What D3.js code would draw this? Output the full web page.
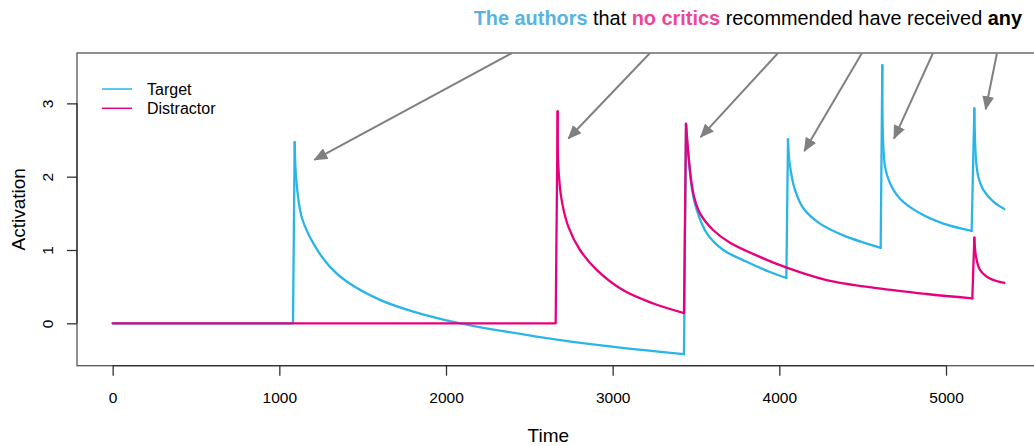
<!DOCTYPE html>
<html><head><meta charset="utf-8">
<script src="https://cdn.jsdelivr.net/npm/d3@7"></script>
<style>
html,body{margin:0;padding:0;background:#fff;}
text{font-family:"Liberation Sans",Arial,Helvetica,sans-serif;}
</style></head>
<body><svg id="chart" width="1034" height="446"></svg>
<script>
// ---- data ----
const targetTime = [0, 1082, 1092, 1102, 1134, 1204, 1304, 1404, 1604, 1804, 2064, 2544, 2944, 3428,
  3440, 3474, 3504, 3564, 3664, 3804, 3944, 4042,
  4052, 4062, 4094, 4144, 4244, 4384, 4608,
  4618, 4634, 4664, 4724, 4844, 4984, 5154,
  5170, 5180, 5194, 5224, 5284, 5350];
const targetAct = [0, 0, 2.47, 1.95, 1.45, 1.09, 0.77, 0.57, 0.32, 0.16, 0.01, -0.18, -0.305, -0.42,
  2.72, 1.86, 1.55, 1.23, 1.00, 0.84, 0.70, 0.62,
  2.51, 2.18, 1.82, 1.57, 1.36, 1.20, 1.03,
  3.52, 2.14, 1.91, 1.70, 1.50, 1.36, 1.26,
  2.93, 2.23, 2.00, 1.82, 1.66, 1.56];
const distractorTime = [0, 2658, 2670, 2674, 2694, 2734, 2804, 2904, 3064, 3244, 3428,
  3440, 3484, 3524, 3604, 3704, 3900, 4044, 4284, 4584, 4884, 5158,
  5170, 5180, 5204, 5264, 5350];
const distractorAct = [0, 0, 2.89, 2.14, 1.68, 1.32, 1.00, 0.73, 0.45, 0.27, 0.14,
  2.72, 1.77, 1.50, 1.27, 1.10, 0.89, 0.76, 0.59, 0.48, 0.40, 0.34,
  1.17, 0.91, 0.73, 0.61, 0.55];
const xTicks = [0, 1000, 2000, 3000, 4000, 5000];
const yTicks = [0, 1, 2, 3];
const seriesNames = ["Target", "Distractor"];
const arrowFromX = [2396, 3224, 3992, 4496, 4922, 5306];
const arrowFromY = [3.687, 3.687, 3.687, 3.687, 3.687, 3.687];
const arrowToX = [1210, 2734, 3528, 4150, 4688, 5238];
const arrowToY = [2.23, 2.52, 2.54, 2.35, 2.52, 2.92];
const titleParts = [
  {t: "The authors", c: "#58b3e4", b: true},
  {t: " that ", c: "#000", b: false},
  {t: "no critics", c: "#ec4796", b: true},
  {t: " recommended have received ", c: "#000", b: false},
  {t: "any", c: "#000", b: true}
];

// ---- styling ----
const colors = {Target: "#29b5e8", Distractor: "#e6007e"};
const svg = d3.select("#chart");
const pLeft = 77, pRight = 1040, pTop = 53, pBottom = 365.7;
const x = d3.scaleLinear().domain([-214, 5564]).range([pLeft, pRight]);
const y = d3.scaleLinear().domain([-0.578, 3.687]).range([pBottom, pTop]);

const defs = svg.append("defs");
defs.append("clipPath").attr("id", "plotclip")
  .append("rect").attr("x", pLeft).attr("y", pTop).attr("width", pRight - pLeft).attr("height", pBottom - pTop);
defs.append("marker").attr("id", "ah").attr("markerUnits", "userSpaceOnUse")
  .attr("viewBox", "0 0 14 12").attr("refX", 13).attr("refY", 6)
  .attr("markerWidth", 14).attr("markerHeight", 12).attr("orient", "auto")
  .append("path").attr("d", "M0,0 L14,6 L0,12 Z").attr("fill", "#808080");

// box
svg.append("rect").attr("x", pLeft).attr("y", pTop).attr("width", pRight - pLeft).attr("height", pBottom - pTop)
  .attr("fill", "none").attr("stroke", "#555").attr("stroke-width", 1.3);

// axes
const xAxis = svg.append("g").attr("transform", `translate(0,${pBottom})`)
  .call(d3.axisBottom(x).tickValues(xTicks).tickSize(10).tickFormat(d3.format("d")));
xAxis.select(".domain").attr("d", `M${x(0)},0H${x(5000)}`).attr("stroke", "#333").attr("stroke-width", 1.3);
xAxis.selectAll(".tick line").attr("stroke", "#333").attr("stroke-width", 1.3);
xAxis.selectAll(".tick text").attr("y", 37).attr("dy", 0).attr("font-size", "15.5px")
  .attr("fill", "#000").style("font-family", "Liberation Sans, Arial, sans-serif");

const yAxis = svg.append("g").attr("transform", `translate(${pLeft},0)`)
  .call(d3.axisLeft(y).tickValues(yTicks).tickSize(10).tickFormat(d3.format("d")));
yAxis.select(".domain").attr("d", `M0,${y(0)}V${y(3)}`).attr("stroke", "#333").attr("stroke-width", 1.3);
yAxis.selectAll(".tick line").attr("stroke", "#333").attr("stroke-width", 1.3);
yAxis.selectAll(".tick text").attr("transform", "rotate(-90)").attr("x", 0).attr("y", -24).attr("dy", 0)
  .attr("text-anchor", "middle").attr("font-size", "15.5px").attr("fill", "#000")
  .style("font-family", "Liberation Sans, Arial, sans-serif");

// axis titles
svg.append("text").attr("x", (x(0) + x(5000)) / 2 + 19).attr("y", 442).attr("text-anchor", "middle")
  .attr("font-size", "19px").text("Time");
svg.append("text").attr("transform", `translate(25,${(pTop + pBottom) / 2}) rotate(-90)`)
  .attr("text-anchor", "middle").attr("font-size", "19px").text("Activation");

// lines: rises drawn straight, decays drawn as smooth curves
const straight = d3.line().x(d => x(d[0])).y(d => y(d[1]));
const smooth = d3.line().x(d => x(d[0])).y(d => y(d[1])).curve(d3.curveCatmullRom.alpha(0.5));
function runs(pts) {
  const out = [];
  let cur = [pts[0]], curType = null;
  for (let i = 1; i < pts.length; i++) {
    const type = pts[i][1] < pts[i - 1][1] ? "decay" : "rise";
    if (curType === null || type === curType) { cur.push(pts[i]); curType = type; }
    else { out.push({type: curType, pts: cur}); cur = [pts[i - 1], pts[i]]; curType = type; }
  }
  out.push({type: curType, pts: cur});
  return out;
}
const plot = svg.append("g").attr("clip-path", "url(#plotclip)");
const seriesData = {
  Target: targetTime.map((t, i) => [t, targetAct[i]]),
  Distractor: distractorTime.map((t, i) => [t, distractorAct[i]])
};
seriesNames.forEach(n => {
  const g = plot.append("g");
  runs(seriesData[n]).forEach(r => {
    g.append("path").attr("d", (r.type === "decay" ? smooth : straight)(r.pts))
      .attr("fill", "none").attr("stroke", colors[n]).attr("stroke-width", 2.3)
      .attr("stroke-linejoin", "round").attr("stroke-linecap", "round");
  });
});

// arrows
arrowFromX.forEach((fx, i) => {
  plot.append("line").attr("x1", x(fx)).attr("y1", y(arrowFromY[i]))
    .attr("x2", x(arrowToX[i])).attr("y2", y(arrowToY[i]))
    .attr("stroke", "#808080").attr("stroke-width", 2).attr("marker-end", "url(#ah)");
});

// legend
const lg = svg.append("g");
seriesNames.forEach((n, i) => {
  const ly = 89 + i * 19.3;
  lg.append("line").attr("x1", 102).attr("x2", 132).attr("y1", ly).attr("y2", ly)
    .attr("stroke", colors[n]).attr("stroke-width", 1.5);
  lg.append("text").attr("x", 147).attr("y", ly + 6).attr("font-size", "16px").text(n);
});

// title
const title = svg.append("text").attr("x", 1022).attr("y", 25).attr("text-anchor", "end").attr("font-size", "19.9px");
titleParts.forEach(p => {
  title.append("tspan").attr("fill", p.c).attr("font-weight", p.b ? "bold" : "normal").text(p.t);
});
</script></body></html>
